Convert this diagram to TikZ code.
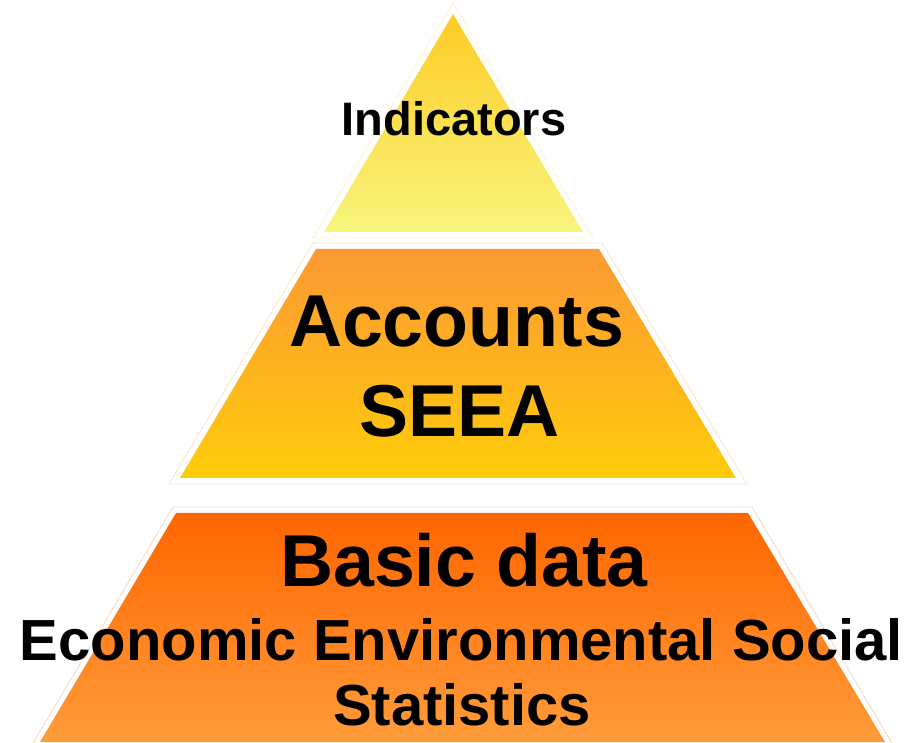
\documentclass[tikz,border=0pt]{standalone}
\usepackage{fontspec}
\setmainfont{Liberation Sans}
\definecolor{topA}{HTML}{FDCC24}
\definecolor{topB}{HTML}{F8F57E}
\definecolor{midA}{HTML}{FC9934}
\definecolor{midB}{HTML}{FECC0A}
\definecolor{botA}{HTML}{FF6600}
\definecolor{botB}{HTML}{FF9C3A}
\definecolor{lineT}{HTML}{FFF3CC}
\definecolor{lineM}{HTML}{FDE4CC}
\definecolor{lineB}{HTML}{FBD9C4}
\tikzset{
  rim/.style={line width=0.9pt},
  lbl/.style={anchor=base, inner sep=0pt, font=\bfseries, text=black},
}
\begin{document}
\begin{tikzpicture}[x=1pt,y=-1pt]
\useasboundingbox (0,0) rectangle (914,743);
% outer faint rims
\draw[rim, draw=lineT] (453,3) -- (593,238) -- (313,238) -- cycle;
\draw[rim, draw=lineM] (313,243) -- (602,243) -- (747,484) -- (169,484) -- cycle;
\draw[rim, draw=lineB] (173,507) -- (752,507) -- (893,745) -- (32,745) -- cycle;
% layers
\shade[top color=topA, bottom color=topB] (453,14) -- (583,232) -- (324,232) -- cycle;
\shade[top color=midA, bottom color=midB] (316,249) -- (599,249) -- (736,478) -- (180,478) -- cycle;
\shade[top color=botA, bottom color=botB] (176,513) -- (748,513) -- (885,742) -- (40,742) -- cycle;
% labels
\node[lbl, font=\bfseries\fontsize{47}{56}\selectfont] (ind) at (454,136) {Indicators};
\node[lbl, font=\bfseries\fontsize{73.5}{88}\selectfont] (acc) at (456.5,346.7) {Accounts};
\node[lbl, font=\bfseries\fontsize{73.5}{88}\selectfont] (seea) at (460,436.7) {SEEA};
\node[lbl, font=\bfseries\fontsize{73.5}{88}\selectfont] (bas) at (464,586) {Basic data};
\node[lbl, font=\bfseries\fontsize{58}{70}\selectfont] (eco) at (461.5,660.7) {Economic Environmental Social};
\node[lbl, font=\bfseries\fontsize{58}{70}\selectfont] (sta) at (462,725) {Statistics};
\end{tikzpicture}
\end{document}
